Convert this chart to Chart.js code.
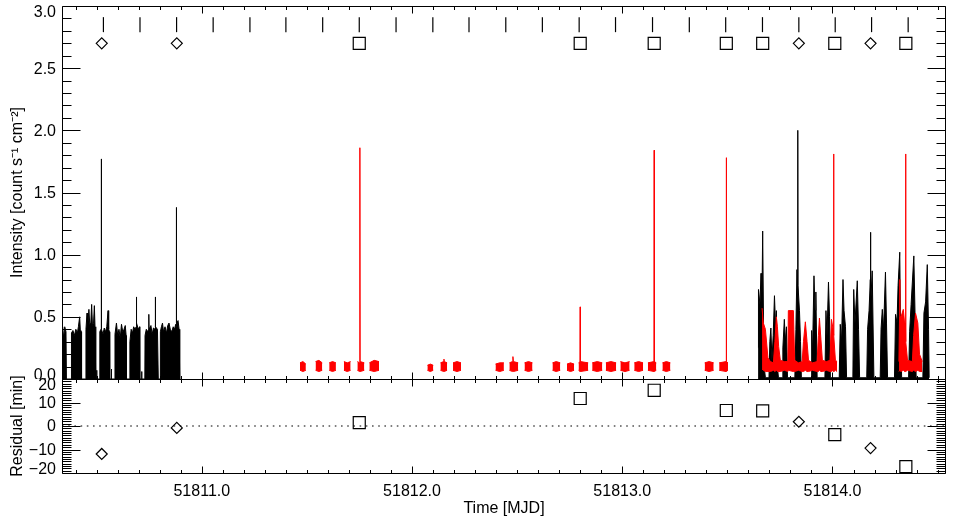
<!DOCTYPE html>
<html>
<head>
<meta charset="utf-8">
<title>Light curve and arrival-time residuals</title>
<script src="https://cdn.jsdelivr.net/npm/chart.js@4.4.1/dist/chart.umd.min.js"></script>
<style>
  html, body { margin: 0; padding: 0; background: #fff; }
  #wrap { position: relative; width: 954px; height: 529px; }
  canvas { position: absolute; left: 0; }
  #lcChart { top: 0; z-index: 2; }
  #resChart { top: 366px; z-index: 1; }
</style>
</head>
<body>
<div id="wrap">
  <canvas id="lcChart" width="954" height="380"></canvas>
  <canvas id="resChart" width="954" height="163"></canvas>
</div>
<script>
const timeMin = 51810.335;
const timeMax = 51814.54;
const predictedLevel = 2.85;
const observedLevel = 2.7;

// predicted times (short vertical marks at the top)
const predictedTime = [
  51810.532, 51810.706, 51810.880, 51811.054, 51811.229, 51811.400, 51811.575, 51811.749,
  51811.924, 51812.099, 51812.271, 51812.446, 51812.620, 51812.795, 51812.968, 51813.144,
  51813.319, 51813.492, 51813.667, 51813.840, 51814.013, 51814.186, 51814.360
];

// observed events
const diamondTime = [51810.524, 51810.881, 51813.840, 51814.181];
const diamondResidual = [-11.9, -0.8, 1.8, -9.4];
const squareTime = [51811.749, 51812.800, 51813.152, 51813.495, 51813.668, 51814.011, 51814.349];
const squareResidual = [1.4, 11.7, 15.2, 6.6, 6.4, -3.7, -17.3];

// black light curve, first observation
const blackEarlyTime = [
  51810.335, 51810.338, 51810.343, 51810.348, 51810.354, 51810.356,
  51810.379, 51810.380, 51810.387, 51810.394, 51810.401, 51810.408, 51810.413, 51810.419, 51810.422, 51810.427, 51810.428,
  51810.448, 51810.449, 51810.454, 51810.457, 51810.463, 51810.467, 51810.472, 51810.476, 51810.480, 51810.485, 51810.489, 51810.492, 51810.495, 51810.496,
  51810.499, 51810.500, 51810.501,
  51810.514, 51810.515, 51810.520, 51810.521, 51810.522, 51810.523, 51810.530, 51810.536, 51810.542, 51810.548, 51810.554, 51810.557, 51810.561, 51810.562,
  51810.569, 51810.570, 51810.571,
  51810.586, 51810.587, 51810.594, 51810.600, 51810.606, 51810.612, 51810.618, 51810.624, 51810.630, 51810.636, 51810.640, 51810.641,
  51810.657, 51810.658, 51810.664, 51810.670, 51810.676, 51810.682, 51810.688, 51810.689, 51810.690, 51810.698, 51810.704, 51810.705,
  51810.713, 51810.714, 51810.715,
  51810.729, 51810.730, 51810.736, 51810.742, 51810.747, 51810.748, 51810.749, 51810.758, 51810.764, 51810.770, 51810.776, 51810.778, 51810.779, 51810.780, 51810.789, 51810.793,
  51810.802, 51810.803, 51810.808, 51810.813, 51810.818, 51810.825, 51810.832, 51810.838, 51810.844, 51810.850, 51810.857, 51810.864, 51810.870, 51810.876, 51810.878, 51810.879, 51810.880, 51810.887, 51810.892, 51810.895
];
const blackEarlyRate = [
  0.40, 0.42, 0.33, 0.42, 0.38, 0,
  0, 0.37, 0.39, 0.35, 0.40, 0.37, 0.42, 0.50, 0.40, 0.38, 0,
  0, 0.40, 0.53, 0.42, 0.56, 0.44, 0.45, 0.60, 0.43, 0.45, 0.59, 0.42, 0.40, 0,
  0, 0.07, 0,
  0, 0.38, 0.40, 0.40, 1.77, 0.40, 0.36, 0.41, 0.38, 0.42, 0.55, 0.40, 0.38, 0,
  0, 0.08, 0,
  0, 0.36, 0.45, 0.35, 0.40, 0.33, 0.44, 0.38, 0.40, 0.43, 0.35, 0,
  0, 0.30, 0.40, 0.37, 0.42, 0.40, 0.42, 0.66, 0.45, 0.40, 0.42, 0,
  0, 0.06, 0,
  0, 0.35, 0.40, 0.38, 0.40, 0.52, 0.40, 0.43, 0.36, 0.41, 0.40, 0.41, 0.66, 0.42, 0.40, 0,
  0, 0.38, 0.42, 0.45, 0.38, 0.42, 0.37, 0.43, 0.45, 0.40, 0.38, 0.42, 0.40, 0.44, 0.42, 1.38, 0.45, 0.47, 0.40, 0
];

// black light curve, last observation
const blackLateTime = [
  51813.646, 51813.648, 51813.655, 51813.660, 51813.664, 51813.668, 51813.672, 51813.675, 51813.681,
  51813.698, 51813.702, 51813.707, 51813.712, 51813.718, 51813.724, 51813.730, 51813.733, 51813.738, 51813.743,
  51813.760, 51813.764, 51813.771, 51813.776, 51813.781, 51813.786,
  51813.821, 51813.826, 51813.831, 51813.834, 51813.835, 51813.836, 51813.843, 51813.848, 51813.852,
  51813.898, 51813.901, 51813.905, 51813.912, 51813.917, 51813.921, 51813.927,
  51813.964, 51813.969, 51813.974, 51813.981, 51813.986, 51813.990,
  51814.032, 51814.037, 51814.043, 51814.050, 51814.055, 51814.062, 51814.067,
  51814.097, 51814.101, 51814.107, 51814.118, 51814.124, 51814.129,
  51814.163, 51814.167, 51814.174, 51814.180, 51814.181, 51814.182, 51814.189, 51814.197,
  51814.227, 51814.231, 51814.237, 51814.243, 51814.252, 51814.257, 51814.262,
  51814.295, 51814.300, 51814.307, 51814.312, 51814.320, 51814.324, 51814.329,
  51814.362, 51814.367, 51814.374, 51814.387, 51814.393, 51814.398,
  51814.430, 51814.435, 51814.443, 51814.451, 51814.457, 51814.460
];
const blackLateRate = [
  0.25, 0.72, 0.60, 0.85, 0.55, 1.19, 0.45, 0.10, 0.01,
  0.01, 0.30, 0.41, 0.15, 0.35, 0.67, 0.40, 0.55, 0.10, 0.01,
  0.01, 0.25, 0.48, 0.30, 0.42, 0.01,
  0.01, 0.40, 0.88, 0.70, 2.00, 0.75, 0.55, 0.30, 0.01,
  0.01, 0.39, 0.20, 0.83, 0.55, 0.70, 0.01,
  0.01, 0.55, 0.35, 0.78, 0.50, 0.01,
  0.01, 0.44, 0.30, 0.80, 0.55, 0.42, 0.01,
  0.01, 0.72, 0.45, 0.79, 0.40, 0.01,
  0.01, 0.40, 0.55, 0.80, 1.18, 0.60, 0.87, 0.01,
  0.01, 0.40, 0.56, 0.40, 0.86, 0.45, 0.01,
  0.01, 0.52, 0.45, 0.75, 1.02, 0.40, 0.01,
  0.01, 0.38, 0.60, 0.99, 0.50, 0.01,
  0.01, 0.53, 0.62, 0.92, 0.40, 0.01
];

// red light curve, middle observations (upper / lower edge of the noise band)
const redMidTime = [
  51811.467, 51811.481, 51811.495, 51811.52,
  51811.541, 51811.557, 51811.573, 51811.59,
  51811.606, 51811.622, 51811.638, 51811.66,
  51811.676, 51811.692, 51811.708, 51811.72,
  51811.740, 51811.751, 51811.752, 51811.753, 51811.773, 51811.785,
  51811.797, 51811.820, 51811.843, 51811.96,
  51812.073, 51812.087, 51812.101, 51812.118,
  51812.135, 51812.151, 51812.152, 51812.153, 51812.167, 51812.18,
  51812.195, 51812.214, 51812.233, 51812.3,
  51812.397, 51812.417, 51812.437, 51812.45,
  51812.463, 51812.478, 51812.480, 51812.482, 51812.505, 51812.52,
  51812.535, 51812.554, 51812.573, 51812.62,
  51812.668, 51812.686, 51812.705, 51812.72,
  51812.737, 51812.754, 51812.771, 51812.781,
  51812.792, 51812.799, 51812.800, 51812.801, 51812.838, 51812.848,
  51812.857, 51812.881, 51812.905, 51812.913,
  51812.922, 51812.946, 51812.971, 51812.98,
  51812.991, 51813.013, 51813.035, 51813.046,
  51813.057, 51813.078, 51813.099, 51813.11,
  51813.122, 51813.151, 51813.152, 51813.153, 51813.162, 51813.176,
  51813.191, 51813.210, 51813.229, 51813.3,
  51813.392, 51813.413, 51813.435, 51813.448,
  51813.461, 51813.494, 51813.495, 51813.496, 51813.503
];
const redMidHigh = [
  0.13, 0.14, 0.12, null,
  0.14, 0.15, 0.13, null,
  0.13, 0.14, 0.13, null,
  0.14, 0.13, 0.14, null,
  0.14, 0.13, 1.86, 0.14, 0.13, null,
  0.13, 0.15, 0.14, null,
  0.11, 0.12, 0.11, null,
  0.13, 0.14, 0.16, 0.14, 0.13, null,
  0.13, 0.14, 0.13, null,
  0.12, 0.13, 0.13, null,
  0.13, 0.14, 0.18, 0.14, 0.13, null,
  0.13, 0.14, 0.13, null,
  0.13, 0.14, 0.13, null,
  0.12, 0.13, 0.12, null,
  0.13, 0.14, 0.58, 0.14, 0.13, null,
  0.13, 0.14, 0.13, null,
  0.13, 0.14, 0.13, null,
  0.14, 0.13, 0.14, null,
  0.13, 0.14, 0.13, null,
  0.13, 0.14, 1.84, 0.14, 0.13, null,
  0.13, 0.14, 0.13, null,
  0.13, 0.14, 0.13, null,
  0.13, 0.14, 1.78, 0.14, 0.13
];
const redMidLow = [
  0.07, 0.06, 0.07, null,
  0.07, 0.06, 0.07, null,
  0.07, 0.06, 0.07, null,
  0.07, 0.06, 0.07, null,
  0.07, 0.06, 0.06, 0.06, 0.07, null,
  0.07, 0.06, 0.07, null,
  0.07, 0.06, 0.07, null,
  0.07, 0.06, 0.06, 0.06, 0.07, null,
  0.07, 0.06, 0.07, null,
  0.07, 0.06, 0.07, null,
  0.07, 0.06, 0.06, 0.06, 0.07, null,
  0.07, 0.06, 0.07, null,
  0.07, 0.06, 0.07, null,
  0.07, 0.06, 0.07, null,
  0.07, 0.06, 0.06, 0.06, 0.07, null,
  0.07, 0.06, 0.07, null,
  0.07, 0.06, 0.07, null,
  0.07, 0.06, 0.07, null,
  0.07, 0.06, 0.07, null,
  0.07, 0.06, 0.06, 0.06, 0.07, null,
  0.07, 0.06, 0.07, null,
  0.07, 0.06, 0.07, null,
  0.07, 0.06, 0.06, 0.06, 0.07
];

// red light curve, last observation
const redLateTime = [
  51813.665, 51813.671, 51813.681, 51813.693, 51813.705, 51813.719, 51813.726, 51813.733, 51813.738,
  51813.744, 51813.752, 51813.771, 51813.788, 51813.790, 51813.814, 51813.820, 51813.838, 51813.856,
  51813.862, 51813.871, 51813.879, 51813.886, 51813.905, 51813.927, 51813.933, 51813.938, 51813.945,
  51813.952, 51813.971, 51813.988, 51813.995, 51814.003, 51814.005, 51814.006, 51814.007, 51814.014, 51814.022,
  51814.15,
  51814.316, 51814.319, 51814.320, 51814.321, 51814.326, 51814.337, 51814.343, 51814.347, 51814.348,
  51814.349, 51814.357, 51814.380, 51814.386, 51814.395, 51814.406, 51814.414, 51814.427
];
const redLateHigh = [
  0.57, 0.45, 0.40, 0.17, 0.14, 0.13, 0.30, 0.50, 0.42,
  0.26, 0.15, 0.14, 0.14, 0.55, 0.55, 0.15, 0.13, 0.14,
  0.30, 0.46, 0.30, 0.15, 0.13, 0.14, 0.35, 0.49, 0.32,
  0.15, 0.14, 0.15, 0.48, 0.40, 0.40, 1.81, 0.35, 0.15, 0.14,
  null,
  0.14, 0.50, 0.80, 0.50, 0.50, 0.56, 0.45, 0.45, 1.81,
  0.30, 0.15, 0.14, 0.35, 0.53, 0.45, 0.20, 0.14
];
const redLateLow = [
  0.08, 0.07, 0.06, 0.06, 0.06, 0.07, 0.06, 0.07, 0.06,
  0.06, 0.06, 0.07, 0.06, 0.07, 0.06, 0.06, 0.07, 0.06,
  0.06, 0.07, 0.06, 0.06, 0.07, 0.06, 0.06, 0.07, 0.06,
  0.06, 0.07, 0.06, 0.06, 0.07, 0.06, 0.06, 0.06, 0.07, 0.06,
  null,
  0.06, 0.07, 0.07, 0.07, 0.06, 0.07, 0.06, 0.06, 0.06,
  0.06, 0.07, 0.06, 0.07, 0.06, 0.07, 0.06, 0.06
];

const fontFamily = "'Liberation Sans', Arial, sans-serif";
Chart.defaults.font.family = fontFamily;
Chart.defaults.font.size = 16;
Chart.defaults.color = '#000';

const xy = (ts, ys) => ts.map((t, i) => ({ x: t, y: ys[i] }));
const level = (ts, v) => ts.map(t => ({ x: t, y: v }));

const blackData = xy(blackEarlyTime, blackEarlyRate)
  .concat([{ x: 51812.5, y: null }], xy(blackLateTime, blackLateRate));
const redHighData = xy(redMidTime, redMidHigh)
  .concat([{ x: 51813.58, y: null }], xy(redLateTime, redLateHigh));
const redLowData = xy(redMidTime, redMidLow)
  .concat([{ x: 51813.58, y: null }], xy(redLateTime, redLateLow));

// frame with inward ticks on all four sides, IDL style
const idlAxes = {
  id: 'idlAxes',
  afterDraw(chart, args, o) {
    const { ctx, chartArea: a } = chart;
    const xs = chart.scales.x, ys = chart.scales.y;
    const L = Math.round(a.left) + 0.5, R = Math.round(a.right) - 0.5;
    const T = Math.round(a.top) + 0.5, B = Math.round(a.bottom) + 0.5;
    ctx.save();
    ctx.strokeStyle = '#000';
    ctx.lineWidth = 1;
    ctx.beginPath();
    ctx.rect(L, T, R - L, B - T);
    const i0 = Math.ceil(xs.min / o.xMinor - 1e-6), i1 = Math.floor(xs.max / o.xMinor + 1e-6);
    for (let i = i0; i <= i1; i++) {
      const px = Math.round(xs.getPixelForValue(i * o.xMinor)) + 0.5;
      const len = i % o.xEvery === 0 ? 7 : 3.5;
      ctx.moveTo(px, B); ctx.lineTo(px, B - len);
      ctx.moveTo(px, T); ctx.lineTo(px, T + len);
    }
    const j0 = Math.ceil(ys.min / o.yMinor - 1e-6), j1 = Math.floor(ys.max / o.yMinor + 1e-6);
    for (let j = j0; j <= j1; j++) {
      const py = Math.round(ys.getPixelForValue(j * o.yMinor)) + 0.5;
      const len = j % o.yEvery === 0 ? 18 : 9;
      ctx.moveTo(L, py); ctx.lineTo(L + len, py);
      ctx.moveTo(R, py); ctx.lineTo(R - len, py);
    }
    ctx.stroke();

    // tick labels at every major tick; the upper panel's lowest label is cut by the lower panel
    if (o.cutBelowFrame) {
      ctx.beginPath();
      ctx.rect(0, 0, chart.width, Math.round(a.bottom));
      ctx.clip();
    }
    ctx.fillStyle = '#000';
    ctx.font = '16px ' + fontFamily;
    ctx.textAlign = 'right';
    ctx.textBaseline = 'middle';
    const step = o.yMinor * o.yEvery;
    const k0 = Math.ceil(ys.min / step - 1e-6), k1 = Math.floor(ys.max / step + 1e-6);
    for (let k = k0; k <= k1; k++) {
      const v = k * step;
      let py = Math.max(ys.getPixelForValue(v), a.top + o.topGap);
      py = Math.min(py, a.bottom - 4);
      ctx.fillText(v.toFixed(o.digits).replace('-', '\u2212'), a.left - 6, py + 1);
    }
    ctx.restore();
  }
};

const baseOptions = {
  responsive: false,
  animation: false,
  events: [],
  elements: { line: { tension: 0 } },
  plugins: { legend: { display: false }, tooltip: { enabled: false } }
};

new Chart(document.getElementById('lcChart'), {
  type: 'line',
  data: {
    datasets: [
      { data: blackData, borderColor: '#000', backgroundColor: '#000', borderWidth: 1,
        fill: 'origin', pointRadius: 0, spanGaps: false, order: 5 },
      { data: redHighData, borderColor: '#ff0000', backgroundColor: '#ff0000', borderWidth: 1,
        fill: '+1', pointRadius: 0, spanGaps: false, order: 4 },
      { data: redLowData, borderColor: '#ff0000', borderWidth: 1,
        fill: false, pointRadius: 0, spanGaps: false, order: 4 },
      { data: level(predictedTime, predictedLevel), showLine: false, pointStyle: 'line', pointRotation: 90,
        pointRadius: 7.5, pointBorderColor: '#000', pointBorderWidth: 1.2, order: 2 },
      { data: level(diamondTime, observedLevel), showLine: false, pointStyle: 'rectRot',
        pointRadius: 5.5, pointBorderColor: '#000', pointBackgroundColor: 'rgba(0,0,0,0)', pointBorderWidth: 1.2, order: 1 },
      { data: level(squareTime, observedLevel), showLine: false, pointStyle: 'rect',
        pointRadius: 8.5, pointBorderColor: '#000', pointBackgroundColor: 'rgba(0,0,0,0)', pointBorderWidth: 1.2, order: 0 }
    ]
  },
  options: {
    ...baseOptions,
    layout: { autoPadding: false, padding: { top: 6, right: 8, bottom: 1, left: 0 } },
    scales: {
      x: { type: 'linear', min: timeMin, max: timeMax, display: false },
      y: {
        min: 0, max: 3,
        ticks: { display: false, stepSize: 0.5 },
        grid: { display: false },
        border: { display: false },
        title: { display: true, text: 'Intensity [count s\u207B\u00B9 cm\u207B\u00B2]', padding: { top: 8, bottom: 0 } },
        afterFit: s => { s.width = 62; }
      }
    },
    plugins: {
      ...baseOptions.plugins,
      idlAxes: { xMinor: 0.1, xEvery: 10, yMinor: 0.1, yEvery: 5, digits: 1, topGap: 6, cutBelowFrame: true }
    }
  },
  plugins: [idlAxes]
});

new Chart(document.getElementById('resChart'), {
  type: 'line',
  data: {
    datasets: [
      { data: [{ x: timeMin, y: 0 }, { x: timeMax, y: 0 }], borderColor: '#000', borderWidth: 1.2,
        borderDash: [1.6, 4.6], pointRadius: 0, order: 2 },
      { data: xy(diamondTime, diamondResidual), showLine: false, pointStyle: 'rectRot',
        pointRadius: 5.5, pointBorderColor: '#000', pointBackgroundColor: 'rgba(0,0,0,0)', pointBorderWidth: 1.2, order: 1 },
      { data: xy(squareTime, squareResidual), showLine: false, pointStyle: 'rect',
        pointRadius: 8.5, pointBorderColor: '#000', pointBackgroundColor: 'rgba(0,0,0,0)', pointBorderWidth: 1.2, order: 0 }
    ]
  },
  options: {
    ...baseOptions,
    layout: { autoPadding: false, padding: { top: 13, right: 8, bottom: 0, left: 0 } },
    scales: {
      x: {
        type: 'linear', min: timeMin, max: timeMax,
        grid: { display: false },
        border: { display: false },
        ticks: { stepSize: 1, includeBounds: false, padding: 1, maxRotation: 0, autoSkip: false,
                 callback: v => v.toFixed(1) },
        title: { display: true, text: 'Time [MJD]', padding: { top: 0, bottom: 11 } },
        afterFit: s => { s.height = 56; }
      },
      y: {
        min: -20, max: 20,
        ticks: { display: false, stepSize: 10 },
        grid: { display: false },
        border: { display: false },
        title: { display: true, text: 'Residual [min]', padding: { top: 8, bottom: 0 } },
        afterFit: s => { s.width = 62; }
      }
    },
    plugins: {
      ...baseOptions.plugins,
      idlAxes: { xMinor: 0.1, xEvery: 10, yMinor: 1, yEvery: 10, digits: 0, topGap: 5.5, cutBelowFrame: false }
    }
  },
  plugins: [idlAxes]
});
</script>
</body>
</html>
